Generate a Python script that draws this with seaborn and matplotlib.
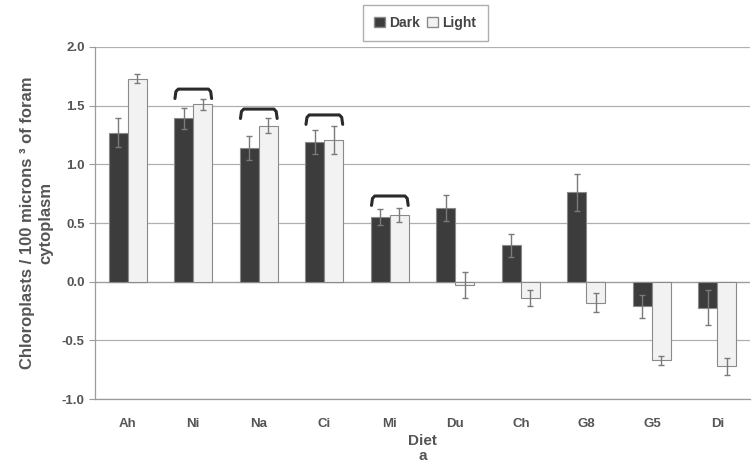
import numpy as np
import pandas as pd
import matplotlib
matplotlib.use("Agg")
import matplotlib.pyplot as plt
import seaborn as sns
from matplotlib.patches import Patch

diets = ["Ah", "Ni", "Na", "Ci", "Mi", "Du", "Ch", "G8", "G5", "Di"]
dark = [1.27, 1.39, 1.14, 1.19, 0.55, 0.63, 0.31, 0.76, -0.21, -0.22]
light = [1.73, 1.51, 1.33, 1.21, 0.57, -0.03, -0.14, -0.18, -0.67, -0.72]
dark_err = [0.12, 0.09, 0.10, 0.10, 0.07, 0.11, 0.10, 0.16, 0.10, 0.15]
light_err = [0.04, 0.05, 0.06, 0.12, 0.06, 0.11, 0.07, 0.08, 0.04, 0.07]
# pairs marked with a bracket and bracket height
bracket_diets = ["Ni", "Na", "Ci", "Mi"]
bracket_y = [1.64, 1.47, 1.42, 0.73]

df = pd.DataFrame({
    "Diet": diets * 2,
    "value": dark + light,
    "err": dark_err + light_err,
    "Treatment": ["Dark"] * len(diets) + ["Light"] * len(diets),
})

sns.set_style("white")
plt.rcParams["font.family"] = ["Liberation Sans", "DejaVu Sans"]

fig = plt.figure(figsize=(7.54, 4.73), dpi=100)
ax = fig.add_axes([0.126, 0.156, 0.869, 0.745])

sns.barplot(
    data=df, x="Diet", y="value", hue="Treatment",
    palette={"Dark": "#3c3c3c", "Light": "#f2f2f2"},
    width=0.58, errorbar=None, ax=ax, legend=False,
    edgecolor="#8a8a8a", linewidth=0.8, zorder=3,
)

# error bars
n = len(diets)
for i, p in enumerate(ax.patches[:2 * n]):
    xc = p.get_x() + p.get_width() / 2
    ax.errorbar(xc, df["value"][i], yerr=df["err"][i], fmt="none",
                ecolor="#7a7a7a", elinewidth=1, capsize=2.5, zorder=4)

# brackets over pairs
for d, yb in zip(bracket_diets, bracket_y):
    i = diets.index(d)
    p1, p2 = ax.patches[i], ax.patches[n + i]
    x1 = p1.get_x() + 0.01
    x2 = p2.get_x() + p2.get_width() - 0.01
    ax.plot([x1, x1 + 0.015, x1 + 0.05, x2 - 0.05, x2 - 0.015, x2],
            [yb - 0.08, yb - 0.02, yb, yb, yb - 0.02, yb - 0.08],
            color="#2a2a2a", lw=2.2, solid_capstyle="round",
            solid_joinstyle="round", zorder=5)

ax.set_ylim(-1.0, 2.0)
ax.set_xlim(-0.5, n - 0.5)
yt = np.arange(-1.0, 2.01, 0.5)
ax.set_yticks(yt)
ax.set_yticklabels([f"{v:.1f}" for v in yt])
ax.yaxis.grid(True, color="#b0b0b0", lw=0.9)
ax.set_axisbelow(True)
for s in ax.spines.values():
    s.set_color("#9a9a9a")
    s.set_linewidth(0.9)
ax.spines["top"].set_visible(False)
ax.spines["right"].set_visible(False)
ax.axhline(0, color="#a0a0a0", lw=0.9, zorder=2)

ax.tick_params(axis="y", left=True, length=4, color="#9a9a9a",
               labelsize=9.5, labelcolor="#555555")
ax.tick_params(axis="x", bottom=False, labelsize=9.5, labelcolor="#555555", pad=10)
for t in ax.get_xticklabels() + ax.get_yticklabels():
    t.set_fontweight("bold")

ax.set_xlabel("Diet\na", fontsize=11, fontweight="bold", color="#555555",
              labelpad=3, linespacing=1.1)
ax.set_ylabel("Chloroplasts / 100 microns \u00b3 of foram\ncytoplasm", fontsize=12,
              fontweight="bold", color="#555555", labelpad=6, linespacing=1.25)
ax.yaxis.label.set_multialignment("center")

handles = [Patch(facecolor="#3c3c3c", edgecolor="#8a8a8a", label="Dark"),
           Patch(facecolor="#f2f2f2", edgecolor="#8a8a8a", label="Light")]
leg = fig.legend(handles=handles, loc="center", bbox_to_anchor=(0.564, 0.952),
                 ncol=2, frameon=True, fancybox=False, fontsize=10,
                 handlelength=0.8, handleheight=0.8, handletextpad=0.3,
                 columnspacing=0.5, borderpad=0.8, borderaxespad=0)
leg.get_frame().set_edgecolor("#9a9a9a")
for t in leg.get_texts():
    t.set_fontweight("bold")
    t.set_color("#444444")

fig.savefig("out.png", dpi=100)
